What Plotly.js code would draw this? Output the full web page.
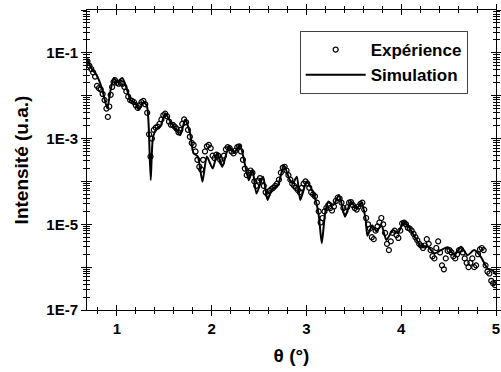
<!DOCTYPE html>
<html><head><meta charset="utf-8">
<script src="https://cdn.plot.ly/plotly-3.0.1.min.js"></script>
<style>html,body{margin:0;padding:0;background:#fff}#chart{width:501px;height:372px}</style>
</head><body><div id="chart"></div>
<script>
// Experimental data (theta in degrees, intensity a.u.)
const expTheta = [0.69,0.71,0.73,0.75,0.77,0.79,0.81,0.83,0.85,0.87,0.89,0.905,0.92,0.935,0.95,0.965,0.98,1.00,1.02,1.04,1.06,1.08,1.10,1.12,1.14,1.16,1.18,1.20,1.22,1.24,1.26,1.28,1.30,1.32,1.34,1.355,1.37,1.39,1.41,1.43,1.45,1.47,1.49,1.51,1.53,1.55,1.57,1.59,1.61,1.63,1.65,1.67,1.69,1.71,1.73,1.75,1.77,1.79,1.81,1.83,1.85,1.87,1.89,1.91,1.93,1.95,1.97,1.99,2.01,2.03,2.05,2.07,2.09,2.11,2.13,2.15,2.17,2.19,2.21,2.23,2.25,2.27,2.29,2.31,2.33,2.35,2.37,2.39,2.41,2.43,2.45,2.47,2.49,2.51,2.53,2.55,2.57,2.59,2.61,2.63,2.65,2.67,2.69,2.71,2.73,2.75,2.77,2.79,2.81,2.83,2.85,2.87,2.89,2.91,2.93,2.95,2.97,2.99,3.01,3.03,3.05,3.07,3.09,3.11,3.13,3.15,3.17,3.19,3.21,3.23,3.25,3.27,3.29,3.31,3.33,3.35,3.37,3.39,3.41,3.43,3.45,3.47,3.49,3.51,3.53,3.55,3.57,3.59,3.61,3.63,3.65,3.67,3.69,3.71,3.73,3.75,3.77,3.79,3.81,3.83,3.85,3.87,3.89,3.91,3.93,3.95,3.97,3.99,4.01,4.03,4.05,4.07,4.09,4.11,4.13,4.15,4.17,4.19,4.21,4.23,4.25,4.27,4.29,4.31,4.33,4.35,4.37,4.39,4.41,4.43,4.45,4.47,4.49,4.51,4.53,4.55,4.57,4.59,4.61,4.63,4.65,4.67,4.69,4.71,4.73,4.75,4.77,4.79,4.81,4.83,4.85,4.87,4.89,4.91,4.93,4.95,4.97,4.99];
const expIntensity = [6.3e-2,5.0e-2,4.2e-2,3.5e-2,2.8e-2,1.7e-2,1.5e-2,1.4e-2,1.1e-2,7.9e-3,5.0e-3,3.2e-3,5.6e-3,1.05e-2,1.6e-2,2.1e-2,2.3e-2,2.0e-2,1.9e-2,2.0e-2,1.9e-2,1.6e-2,1.26e-2,9.5e-3,7.9e-3,7.6e-3,7.1e-3,6.0e-3,5.2e-3,6.0e-3,7.1e-3,7.6e-3,6.3e-3,4.0e-3,1.26e-3,3.8e-4,1.0e-3,1.6e-3,1.8e-3,1.9e-3,2.2e-3,2.8e-3,3.5e-3,3.8e-3,3.3e-3,2.5e-3,2.1e-3,2.1e-3,1.9e-3,1.7e-3,1.4e-3,1.6e-3,2.2e-3,2.8e-3,2.4e-3,1.6e-3,1.1e-3,7.9e-4,7.1e-4,5.0e-4,3.2e-4,2.2e-4,1.9e-4,3.2e-4,5.0e-4,6.6e-4,7.1e-4,6.0e-4,4.0e-4,3.5e-4,4.2e-4,4.0e-4,3.2e-4,2.8e-4,4.0e-4,5.6e-4,6.3e-4,6.0e-4,5.0e-4,4.5e-4,5.2e-4,6.3e-4,6.6e-4,5.0e-4,3.2e-4,2.0e-4,1.4e-4,1.6e-4,1.8e-4,1.6e-4,1.0e-4,7.9e-5,1.05e-4,1.2e-4,1.05e-4,7.9e-5,5.6e-5,5.0e-5,6.0e-5,6.6e-5,7.1e-5,7.9e-5,8.9e-5,1.1e-4,1.6e-4,2.1e-4,2.2e-4,1.8e-4,1.4e-4,1.1e-4,8.9e-5,7.9e-5,7.1e-5,6.3e-5,5.6e-5,7.1e-5,8.9e-5,1.0e-4,8.9e-5,7.1e-5,5.6e-5,5.0e-5,4.5e-5,3.2e-5,2.0e-5,1.1e-5,1.4e-5,2.0e-5,2.4e-5,2.8e-5,2.4e-5,2.1e-5,2.6e-5,3.5e-5,4.2e-5,4.0e-5,3.2e-5,2.4e-5,2.0e-5,2.5e-5,3.2e-5,3.3e-5,2.8e-5,2.4e-5,2.2e-5,2.6e-5,3.0e-5,3.2e-5,2.2e-5,1.4e-5,1.0e-5,7.9e-6,5.0e-6,4.5e-6,7.1e-6,8.9e-6,1.1e-5,1.4e-5,1.0e-5,6.3e-6,3.5e-6,2.5e-6,4.0e-6,6.3e-6,7.1e-6,5.6e-6,4.8e-6,7.1e-6,1.05e-5,1.1e-5,1.0e-5,8.3e-6,7.9e-6,7.1e-6,6.0e-6,5.0e-6,4.2e-6,3.5e-6,3.2e-6,2.8e-6,3.2e-6,4.5e-6,3.5e-6,2.5e-6,1.8e-6,1.6e-6,2.8e-6,4.0e-6,2.2e-6,1.1e-6,8.9e-7,1.6e-6,2.4e-6,2.5e-6,2.2e-6,1.8e-6,1.6e-6,2.0e-6,2.5e-6,2.6e-6,2.2e-6,1.6e-6,1.26e-6,1.0e-6,1.26e-6,1.6e-6,1.0e-6,1.1e-6,2.0e-6,2.6e-6,2.8e-6,2.5e-6,1.1e-6,7.9e-7,7.1e-7,4.8e-7,4.2e-7,3.8e-7];

// Simulation curve
const simTheta = [0.69,0.742,0.776,0.811,0.847,0.899,0.934,0.969,1.004,1.057,1.109,1.144,1.196,1.231,1.283,1.319,1.336,1.357,1.382,1.424,1.459,1.511,1.563,1.609,1.668,1.721,1.773,1.808,1.854,1.903,1.949,2.011,2.06,2.112,2.183,2.238,2.298,2.35,2.392,2.431,2.473,2.543,2.589,2.631,2.70,2.763,2.823,2.857,2.899,2.935,3.004,3.075,3.127,3.162,3.197,3.232,3.284,3.344,3.407,3.47,3.529,3.581,3.623,3.644,3.694,3.739,3.791,3.844,3.914,3.966,4.029,4.089,4.142,4.211,4.274,4.351,4.421,4.491,4.561,4.631,4.70,4.77,4.84,4.91,4.963,5.0];
const simIntensity = [6.8e-2,4.0e-2,3.3e-2,2.3e-2,1.35e-2,5.1e-3,1.35e-2,2.6e-2,2.1e-2,2.6e-2,1.35e-2,7.9e-3,6.6e-3,4.7e-3,7.2e-3,5.5e-3,1.9e-3,1.07e-4,1.1e-3,1.74e-3,1.9e-3,3.9e-3,2.5e-3,1.8e-3,1.2e-3,2.8e-3,1.32e-3,4.6e-4,3.8e-4,9.8e-5,3.8e-4,2.0e-4,4.6e-4,2.2e-4,6.5e-4,4.6e-4,7.1e-4,2.6e-4,1.07e-4,1.86e-4,5.2e-5,1.29e-4,3.7e-5,6.3e-5,8.3e-5,2.4e-4,1.1e-4,9.1e-5,1.29e-4,3.7e-5,9.8e-5,5.2e-5,1.8e-5,3.6e-6,1.8e-5,3.4e-5,2.8e-5,4.8e-5,1.5e-5,3.4e-5,2.3e-5,3.2e-5,1.38e-5,5.4e-6,9.5e-6,6.8e-6,9.5e-6,4.3e-6,7.4e-6,6.2e-6,1.2e-5,8.1e-6,5.1e-6,3.0e-6,3.1e-6,2.1e-6,2.5e-6,2.9e-6,1.9e-6,3.0e-6,1.9e-6,2.5e-6,1.74e-6,9.3e-7,8.5e-7,6.6e-7];

// Axis ticks
const xTickVals = [1,2,3,4,5];
const xTickText = ['1','2','3','4','5'];
const yTickVals = [1e-7,1e-6,1e-5,1e-4,1e-3,1e-2,1e-1,1];
const yTickText = ['1E-7','','1E-5','','1E-3','','1E-1',''];

const xMinor = [];
for (let v = 0.8; v < 5; v += 0.2) { if (Math.abs(v - Math.round(v)) > 0.05) xMinor.push(+v.toFixed(2)); }
const yMinor = [];
for (let e = -7; e < 0; e++) for (let m = 2; m <= 9; m++) yMinor.push(m * Math.pow(10, e));

const FONT = 'Liberation Sans, Arial, sans-serif';
const xr = [0.685, 5.0];
const yr = [-7, 0];

const traces = [
  {x: expTheta, y: expIntensity, type: 'scatter', mode: 'markers', name: 'Expérience',
   marker: {symbol: 'circle-open', size: 5, color: '#000', line: {width: 1.2, color: '#000'}}},
  {x: simTheta, y: simIntensity, type: 'scatter', mode: 'lines', name: 'Simulation',
   line: {color: '#000', width: 2, shape: 'spline', smoothing: 0.6}},
  {x: [], y: [], xaxis: 'x2', yaxis: 'y2', type: 'scatter', mode: 'lines', showlegend: false, hoverinfo: 'skip'}
];

const axBase = {showline: true, linecolor: '#000', linewidth: 1, showgrid: false, zeroline: false,
  tickcolor: '#000', tickwidth: 1};

const layout = {
  width: 501, height: 372,
  margin: {l: 87, r: 5, t: 10, b: 62},
  paper_bgcolor: '#fff', plot_bgcolor: '#fff',
  font: {family: FONT, color: '#000'},
  showlegend: true,
  legend: {x: 0.52, y: 0.93, xanchor: 'left', yanchor: 'top', bgcolor: '#fff',
    bordercolor: '#444', borderwidth: 1, font: {family: FONT, size: 17, color: '#000', weight: 'bold'},
    itemwidth: 60, tracegroupgap: 0},
  xaxis: Object.assign({}, axBase, {
    range: xr, type: 'linear', tickmode: 'array', tickvals: xTickVals, ticktext: xTickText,
    ticks: 'outside', ticklen: 5, mirror: 'ticks', ticklabeloverflow: 'allow',
    tickfont: {family: FONT, size: 15, weight: 'bold'},
    minor: {tickmode: 'array', tickvals: xMinor, ticks: 'outside', ticklen: 3, tickcolor: '#000', showgrid: false},
    title: {text: 'θ (°)', font: {family: FONT, size: 19, weight: 'bold'}, standoff: 12}
  }),
  yaxis: Object.assign({}, axBase, {
    type: 'log', range: yr, tickmode: 'array', tickvals: yTickVals, ticktext: yTickText,
    ticks: 'outside', ticklen: 5, mirror: 'ticks', ticklabeloverflow: 'allow',
    tickfont: {family: FONT, size: 15, weight: 'bold'},
    minor: {tickmode: 'array', tickvals: yMinor, ticks: 'outside', ticklen: 3, tickcolor: '#000', showgrid: false},
    title: {text: 'Intensité (u.a.)', font: {family: FONT, size: 19, weight: 'bold'}, standoff: 12}
  }),
  xaxis2: Object.assign({}, axBase, {
    overlaying: 'x', anchor: 'y2', range: xr, tickmode: 'array', tickvals: xTickVals,
    ticks: 'inside', ticklen: 5, mirror: 'ticks', showticklabels: false,
    minor: {tickmode: 'array', tickvals: xMinor, ticks: 'inside', ticklen: 3, tickcolor: '#000', showgrid: false}
  }),
  yaxis2: Object.assign({}, axBase, {
    overlaying: 'y', anchor: 'x2', type: 'log', range: yr, tickmode: 'array', tickvals: yTickVals,
    ticks: 'inside', ticklen: 5, mirror: 'ticks', showticklabels: false,
    minor: {tickmode: 'array', tickvals: yMinor, ticks: 'inside', ticklen: 3, tickcolor: '#000', showgrid: false}
  })
};

Plotly.newPlot('chart', traces, layout, {staticPlot: true, displayModeBar: false});
</script>
</body></html>
